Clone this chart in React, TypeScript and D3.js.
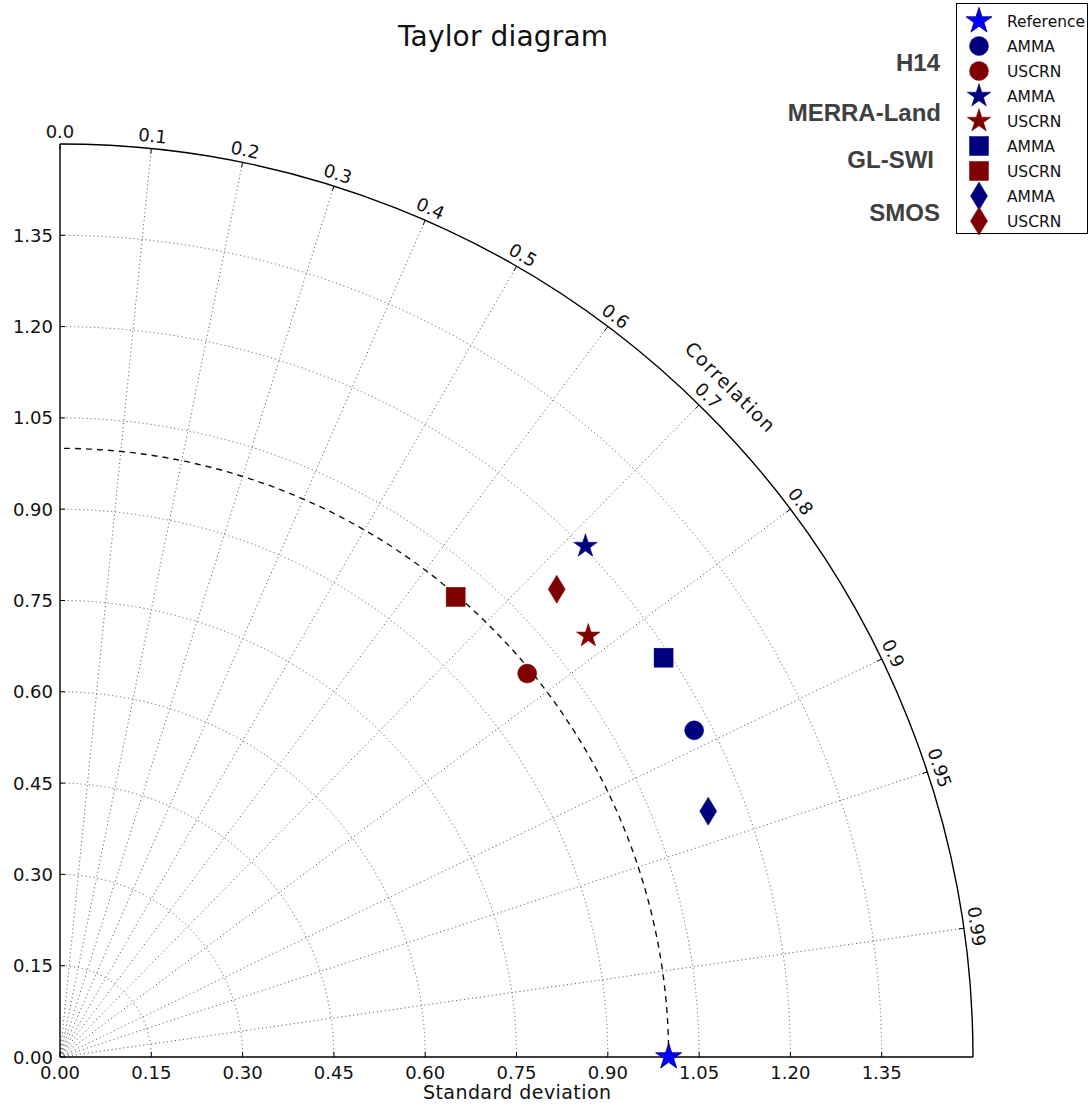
import React from "react";
import * as d3 from "d3";

const W = 1089, H = 1106;

// std dev axis ticks
const stdTicks = [0, 0.15, 0.3, 0.45, 0.6, 0.75, 0.9, 1.05, 1.2, 1.35];
const corrTicks = [0.0, 0.1, 0.2, 0.3, 0.4, 0.5, 0.6, 0.7, 0.8, 0.9, 0.95, 0.99];
const corrTickLabels = ["0.0", "0.1", "0.2", "0.3", "0.4", "0.5", "0.6", "0.7", "0.8", "0.9", "0.95", "0.99"];
const maxStd = 1.5;
const refStd = 1.0;

// datasets (group labels) and networks
const products = ["H14", "MERRA-Land", "GL-SWI", "SMOS"];
const productShapes = ["circle", "star", "square", "diamond"];
const networks = ["AMMA", "USCRN"];
const networkColors = ["#00007f", "#7f0000"];

// standard deviation and correlation per product: [AMMA, USCRN]
const stdAMMA = [1.172, 1.204, 1.189, 1.139];
const corrAMMA = [0.889, 0.717, 0.834, 0.935];
const stdUSCRN = [0.993, 1.11, 0.997, 1.121];
const corrUSCRN = [0.773, 0.782, 0.652, 0.728];

const ox = 60, oy = 1057;
const rScale = d3.scaleLinear().domain([0, maxStd]).range([0, 913]);

function polar(std: number, corr: number) {
  const th = Math.acos(Math.max(-1, Math.min(1, corr)));
  const r = rScale(std);
  return [ox + r * Math.cos(th), oy - r * Math.sin(th)];
}

function Marker({ shape, x, y, color, stroke }: { shape: string; x: number; y: number; color: string; stroke?: string }) {
  const sw = stroke ? 0.8 : 0.5;
  const st = stroke || color;
  if (shape === "circle") return <circle cx={x} cy={y} r={9.5} fill={color} stroke={st} strokeWidth={sw} />;
  if (shape === "square") return <rect x={x - 9.5} y={y - 9.5} width={19} height={19} fill={color} stroke={st} strokeWidth={sw} />;
  if (shape === "diamond") {
    const p = `${x},${y - 14} ${x + 8.5},${y} ${x},${y + 14} ${x - 8.5},${y}`;
    return <polygon points={p} fill={color} stroke={st} strokeWidth={sw} />;
  }
  const sym = d3.symbol().type(d3.symbolStar).size(shape === "refstar" ? 210 : 175)();
  return <path d={sym as string} transform={`translate(${x},${y})`} fill={color} stroke={st} strokeWidth={sw} />;
}

export default function App() {
  const R = rScale(maxStd);
  const arcPath = (std: number) => {
    const r = rScale(std);
    return `M${ox + r},${oy} A${r},${r} 0 0 0 ${ox},${oy - r}`;
  };
  const gridStyle = { stroke: "#666", strokeWidth: 1, strokeDasharray: "1.2,2.8", fill: "none" };
  const legendRows: { shape: string; color: string; label: string; stroke?: string }[] = [
    { shape: "refstar", color: "#0000ff", label: "Reference", stroke: "#000066" },
  ];
  products.forEach((_, i) => {
    networks.forEach((n, j) => legendRows.push({ shape: productShapes[i], color: networkColors[j], label: n }));
  });
  const groupLabelY = [63, 113, 160, 213];
  const groupLabelX = [940, 941, 934, 940];
  const font = "DejaVu Sans, sans-serif";
  const tickFs = 18;
  return (
    <svg width={W} height={H} style={{ position: "absolute", left: 0, top: 0, background: "#fff" }} fontFamily={font}>
      <rect width={W} height={H} fill="#fff" />
      {/* std grid arcs */}
      {stdTicks.filter((s) => s > 0).map((s) => (
        <path key={"g" + s} d={arcPath(s)} style={gridStyle} />
      ))}
      {/* correlation radial grid */}
      {corrTicks.filter((c) => c > 0).map((c) => {
        const [x, y] = polar(maxStd, c);
        return <line key={"c" + c} x1={ox} y1={oy} x2={x} y2={y} style={gridStyle} />;
      })}
      {/* reference dashed arc */}
      <path d={arcPath(refStd)} fill="none" stroke="#111" strokeWidth={1.4} strokeDasharray="6,5" />
      {/* axes */}
      <line x1={ox} y1={oy - R} x2={ox} y2={oy} stroke="#000" strokeWidth={1.4} />
      <line x1={ox} y1={oy} x2={ox + R} y2={oy} stroke="#000" strokeWidth={1.4} />
      <path d={arcPath(maxStd)} fill="none" stroke="#000" strokeWidth={1.4} />
      {/* std ticks and labels */}
      {stdTicks.map((s) => (
        <g key={"t" + s}>
          <line x1={ox + rScale(s)} y1={oy} x2={ox + rScale(s)} y2={oy - 5} stroke="#000" />
          <line x1={ox} y1={oy - rScale(s)} x2={ox + 5} y2={oy - rScale(s)} stroke="#000" />
          <text x={ox + rScale(s)} y={oy + 22} textAnchor="middle" fontSize={tickFs} fill="#111">{s.toFixed(2)}</text>
          <text x={ox - 7} y={oy - rScale(s) + 6.5} textAnchor="end" fontSize={tickFs} fill="#111">{s.toFixed(2)}</text>
        </g>
      ))}
      {/* correlation ticks and labels */}
      {corrTicks.map((c, i) => {
        const th = Math.acos(c);
        const [x1, y1] = polar(maxStd, c);
        const x2 = ox + (R - 5) * Math.cos(th), y2 = oy - (R - 5) * Math.sin(th);
        const lx = ox + (R + 13) * Math.cos(th), ly = oy - (R + 13) * Math.sin(th);
        const rot = 90 - (th * 180) / Math.PI;
        return (
          <g key={"ct" + c}>
            <line x1={x1} y1={y1} x2={x2} y2={y2} stroke="#000" />
            <text x={lx} y={ly} transform={`rotate(${rot},${lx},${ly})`} textAnchor="middle" dominantBaseline="central" fontSize={tickFs} fill="#111">
              {corrTickLabels[i]}
            </text>
          </g>
        );
      })}
      {(() => {
        const th = Math.acos(0.707);
        const lx = ox + (R + 35) * Math.cos(th), ly = oy - (R + 35) * Math.sin(th);
        const rot = 90 - (th * 180) / Math.PI;
        return (
          <text x={lx} y={ly} transform={`rotate(${rot},${lx},${ly})`} textAnchor="middle" dominantBaseline="central" fontSize={19} textLength={118} lengthAdjust="spacing" fill="#111">
            Correlation
          </text>
        );
      })()}
      <text x={517} y={1099} textAnchor="middle" fontSize={19} textLength={188} lengthAdjust="spacing" fill="#111">Standard deviation</text>
      <text x={503} y={46} textAnchor="middle" fontSize={28} textLength={210} lengthAdjust="spacing" fill="#111">Taylor diagram</text>
      {/* data points */}
      {products.map((p, i) => {
        const [ax, ay] = polar(stdAMMA[i], corrAMMA[i]);
        const [ux, uy] = polar(stdUSCRN[i], corrUSCRN[i]);
        return (
          <g key={"p" + p}>
            <Marker shape={productShapes[i]} x={ax} y={ay} color={networkColors[0]} />
            <Marker shape={productShapes[i]} x={ux} y={uy} color={networkColors[1]} />
          </g>
        );
      })}
      {(() => {
        const [x, y] = polar(refStd, 1);
        return <Marker shape="refstar" x={x} y={y} color="#0000ff" stroke="#000066" />;
      })()}
      {/* legend */}
      <rect x={956.5} y={3.5} width={131} height={230} fill="#fff" stroke="#000" strokeWidth={1} />
      {legendRows.map((r, i) => (
        <g key={"l" + i}>
          <Marker shape={r.shape} x={979} y={21 + i * 25} color={r.color} stroke={r.stroke} />
          <text x={1007} y={21 + i * 25 + 5.5} fontSize={15.5} fill="#111">{r.label}</text>
        </g>
      ))}
      {products.map((p, i) => (
        <text key={"gl" + p} x={groupLabelX[i]} y={groupLabelY[i] + 8} textAnchor="end" fontFamily="Liberation Sans, Arial, sans-serif" fontWeight="bold" fontSize={24} fill="#404040">
          {p}
        </text>
      ))}
    </svg>
  );
}
